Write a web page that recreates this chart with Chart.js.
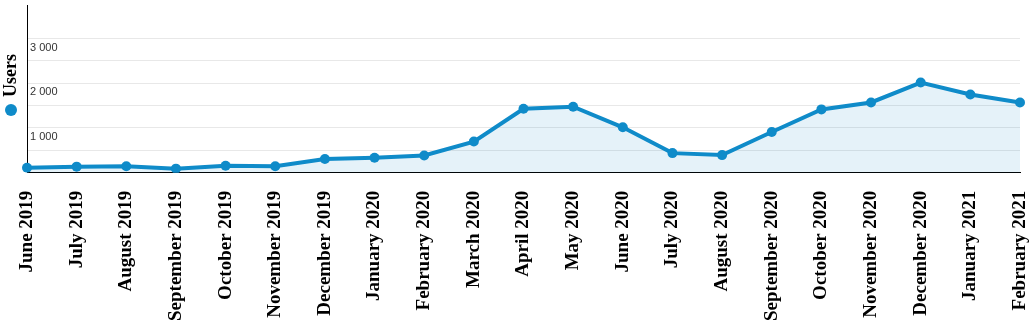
<!DOCTYPE html>
<html>
<head>
<meta charset="utf-8">
<script src="https://cdn.jsdelivr.net/npm/chart.js@4/dist/chart.umd.min.js"></script>
<style>
    html, body { margin: 0; padding: 0; background: #fff; }
    #wrap { width: 1035px; height: 335px; position: relative; }
</style>
</head>
<body>
<div id="wrap"><canvas id="usersChart"></canvas></div>
<script>
"use strict";

// Monthly users
var months = [
    'June 2019', 'July 2019', 'August 2019', 'September 2019', 'October 2019',
    'November 2019', 'December 2019', 'January 2020', 'February 2020', 'March 2020',
    'April 2020', 'May 2020', 'June 2020', 'July 2020', 'August 2020',
    'September 2020', 'October 2020', 'November 2020', 'December 2020',
    'January 2021', 'February 2021'
];
var users = [
    110, 135, 145, 90, 155, 145, 305, 335, 385, 695,
    1430, 1475, 1015, 437, 393, 910, 1415, 1570, 2015, 1750, 1570
];
var seriesLabel = 'Users';
var yTickValues = [0, 500, 1000, 1500, 2000, 2500, 3000];
var yLabelled = [1000, 2000, 3000];

var lineColor = '#0f8bc9';

// vertical legend on the left edge
var sideLegend = {
    id: 'sideLegend',
    afterDraw: function (chart) {
        var ctx = chart.ctx;
        var ds = chart.data.datasets[0];
        ctx.save();
        ctx.translate(11, 110);
        ctx.rotate(-Math.PI / 2);
        ctx.fillStyle = ds.borderColor;
        ctx.beginPath();
        ctx.arc(0, 0, 6, 0, Math.PI * 2);
        ctx.fill();
        ctx.fillStyle = '#000';
        ctx.font = 'bold 18px "Liberation Serif", "Times New Roman", serif';
        ctx.textBaseline = 'middle';
        ctx.textAlign = 'left';
        ctx.fillText(ds.label, 13, 0);
        ctx.restore();
    }
};

new Chart(document.getElementById('usersChart'), {
    type: 'line',
    data: {
        labels: months,
        datasets: [{
            label: seriesLabel,
            data: users,
            borderColor: lineColor,
            backgroundColor: 'rgba(15, 139, 201, 0.11)',
            fill: 'origin',
            borderWidth: 4,
            pointRadius: 5,
            pointHoverRadius: 5,
            pointBackgroundColor: lineColor,
            pointBorderWidth: 0,
            tension: 0
        }]
    },
    options: {
        responsive: true,
        maintainAspectRatio: false,
        animation: false,
        layout: {
            padding: { left: 21, right: 0, top: 3, bottom: 4 }
        },
        scales: {
            x: {
                offset: false,
                afterFit: function (scale) {
                    // keep the last rotated label from pushing the plot inwards
                    scale.paddingLeft = 0;
                    scale.paddingRight = 15;
                },
                grid: { display: false },
                border: { display: true, color: '#000', width: 1 },
                ticks: {
                    autoSkip: false,
                    maxRotation: 90,
                    minRotation: 90,
                    padding: 10,
                    color: '#000',
                    font: { family: '"Liberation Serif", "Times New Roman", serif', size: 19, weight: 'bold' }
                }
            },
            y: {
                min: 0,
                max: 3750,
                afterBuildTicks: function (scale) {
                    scale.ticks = yTickValues.map(function (v) { return { value: v }; });
                },
                afterFit: function (scale) {
                    scale.paddingTop = 0;
                    scale.paddingBottom = 0;
                },
                grid: { color: '#e8e8e8', drawTicks: false },
                border: { display: true, color: '#000', width: 1 },
                ticks: {
                    mirror: true,
                    padding: 3,
                    labelOffset: 9,
                    color: '#333',
                    font: { family: '"Liberation Sans", Arial, sans-serif', size: 11 },
                    callback: function (value) {
                        if (yLabelled.indexOf(value) < 0) return '';
                        return String(value).replace(/\B(?=(\d{3})+(?!\d))/g, ' ');
                    }
                }
            }
        },
        plugins: {
            legend: { display: false },
            tooltip: { enabled: false }
        }
    },
    plugins: [sideLegend]
});
</script>
</body>
</html>
